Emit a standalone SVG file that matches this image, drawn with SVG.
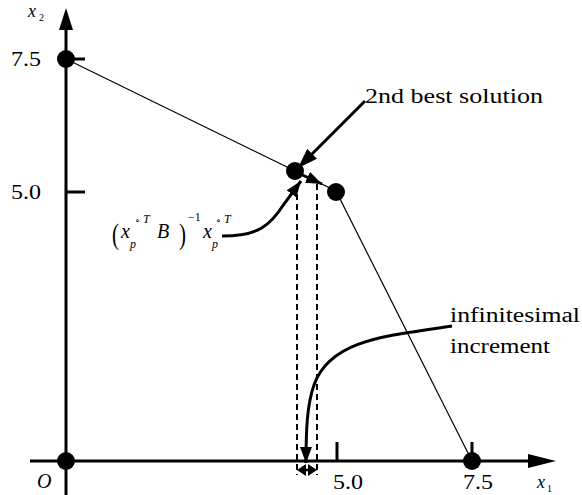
<svg xmlns="http://www.w3.org/2000/svg" width="582" height="495" viewBox="0 0 582 495">
<defs>
<marker id="big" viewBox="0 0 10 10" refX="10" refY="5" markerWidth="20" markerHeight="14" markerUnits="userSpaceOnUse" orient="auto" preserveAspectRatio="none">
<path d="M0,0 L10,5 L0,10 z" fill="#000"/>
</marker>
<marker id="med" viewBox="0 0 10 10" refX="10" refY="5" markerWidth="16" markerHeight="12" markerUnits="userSpaceOnUse" orient="auto" preserveAspectRatio="none">
<path d="M0,0 L10,5 L0,10 z" fill="#000"/>
</marker>
</defs>
<style>
.lbl{font-size:20px;}
.it{font-style:italic;}
.axis{stroke:#000;stroke-width:3;fill:none;}
.thin{stroke:#000;stroke-width:1.2;fill:none;}
.thick{stroke:#000;stroke-width:3;fill:none;}
.dash{stroke:#000;stroke-width:2;stroke-dasharray:6,4;fill:none;}
.dot{fill:#000;}
.serif{font-family:'Liberation Serif','DejaVu Serif',serif;}
</style>
<rect width="582" height="495" fill="#fff"/>
<g id="axes">
<line class="axis" x1="66" y1="495" x2="66" y2="28"/>
<path d="M66,8 L73,30 L59,30 z" fill="#000"/>
<line class="axis" x1="30" y1="461" x2="530" y2="461"/>
<path d="M556,461 L528,454 L528,468 z" fill="#000"/>
<line class="axis" x1="66" y1="59" x2="85" y2="59"/>
<line class="axis" x1="66" y1="192" x2="85" y2="192"/>
<line class="axis" x1="337" y1="442" x2="337" y2="461"/>
<line class="axis" x1="472" y1="442" x2="472" y2="461"/>
</g>
<g id="axis-labels" class="serif" fill="#000">
<text class="lbl" x="11" y="66" textLength="30" lengthAdjust="spacingAndGlyphs">7.5</text>
<text class="lbl" x="11" y="199" textLength="30" lengthAdjust="spacingAndGlyphs">5.0</text>
<text class="lbl it" x="37" y="488">O</text>
<text class="lbl" x="333" y="489" textLength="30" lengthAdjust="spacingAndGlyphs">5.0</text>
<text class="lbl" x="463" y="489" textLength="30" lengthAdjust="spacingAndGlyphs">7.5</text>
<text x="537" y="488" font-size="18"><tspan class="it">x</tspan><tspan x="547" y="492" font-size="10">1</tspan></text>
<text x="28" y="17" font-size="18"><tspan class="it">x</tspan><tspan x="39" y="21" font-size="10">2</tspan></text>
</g>
<g id="polygon">
<polyline class="thin" points="66,59 336,191 472,461"/>
</g>
<g id="node-A"><circle class="dot" cx="66" cy="59" r="9"/></g>
<g id="node-O"><circle class="dot" cx="66" cy="461" r="9"/></g>
<g id="node-C"><circle class="dot" cx="472" cy="461" r="9"/></g>
<g id="node-D"><circle class="dot" cx="336" cy="192" r="9"/></g>
<g id="node-B"><circle class="dot" cx="295" cy="171" r="9"/></g>
<g id="connectors">
<line class="dash" x1="297" y1="184" x2="297" y2="475"/>
<line class="dash" x1="317" y1="184" x2="317" y2="475"/>
<line class="thick" x1="365" y1="101" x2="298" y2="168" marker-end="url(#big)"/>
<line class="thick" x1="298" y1="173" x2="322" y2="184" marker-end="url(#med)"/>
<path class="thick" d="M222,236 C258,236 270,226 284,204 L301,181" marker-end="url(#med)"/>
<path class="thick" d="M452,326 C385,336 330,340 314,385 C307,405 306,430 306,463" marker-end="url(#med)"/>
<line x1="303" y1="470" x2="311" y2="470" stroke="#000" stroke-width="2.5"/>
<path d="M297,470 L306,464 L306,476 z M317,470 L308,464 L308,476 z" fill="#000"/>
</g>
<g id="labels" class="serif" fill="#000">
<text class="lbl" x="365" y="103" textLength="178" lengthAdjust="spacingAndGlyphs">2nd best solution</text>
<text class="lbl" x="450" y="322" textLength="130" lengthAdjust="spacingAndGlyphs">infinitesimal</text>
<text class="lbl" x="450" y="353" textLength="100" lengthAdjust="spacingAndGlyphs">increment</text>
</g>
<g id="formula" class="serif" fill="#000">
<text x="112" y="244" font-size="30" transform="translate(112 0) scale(0.7 1) translate(-112 0)">(</text>
<text font-size="20"><tspan class="it" x="121" y="238">x</tspan><tspan class="it" x="130" y="248" font-size="12">p</tspan><tspan x="135" y="224" font-size="10">∘</tspan><tspan class="it" x="143" y="223" font-size="12">T</tspan><tspan class="it" x="157" y="238">B</tspan></text>
<text x="179" y="244" font-size="30" transform="translate(179 0) scale(0.7 1) translate(-179 0)">)</text>
<text font-size="20"><tspan x="188" y="221" font-size="12">−1</tspan><tspan class="it" x="203" y="238">x</tspan><tspan class="it" x="212" y="248" font-size="12">p</tspan><tspan x="216" y="224" font-size="10">∘</tspan><tspan class="it" x="224" y="223" font-size="12">T</tspan></text>
</g>
</svg>
